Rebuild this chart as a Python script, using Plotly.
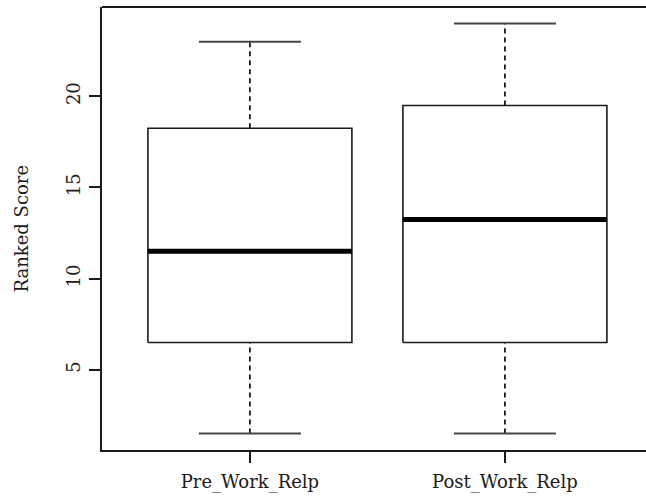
import plotly.graph_objects as go

# Five-number summaries of the ranked scores
categories = ["Pre_Work_Relp", "Post_Work_Relp"]
lower_whisker = [1.5, 1.5]
q1 = [6.5, 6.5]
median = [11.5, 13.25]
q3 = [18.25, 19.5]
upper_whisker = [23, 24]
y_ticks = [5, 10, 15, 20]

positions = [1, 2]
box_half = 0.4      # half box width in x units
cap_half = 0.2      # half whisker-cap width
ink = "#1a1a1a"
font_family = "DejaVu Serif, serif"
font_size = 18

fig = go.Figure()

for x, lo, a, m, b, hi in zip(positions, lower_whisker, q1, median, q3, upper_whisker):
    # dashed whiskers
    for y0, y1 in ((lo, a), (b, hi)):
        fig.add_trace(go.Scatter(
            x=[x, x], y=[y0, y1], mode="lines",
            line=dict(color=ink, width=1.8, dash="5px,4px"),
            hoverinfo="skip", showlegend=False))
    # whisker caps
    for y in (lo, hi):
        fig.add_trace(go.Scatter(
            x=[x - cap_half, x + cap_half], y=[y, y], mode="lines",
            line=dict(color="#444444", width=2),
            hoverinfo="skip", showlegend=False))
    # box outline
    fig.add_trace(go.Scatter(
        x=[x - box_half, x + box_half, x + box_half, x - box_half, x - box_half],
        y=[a, a, b, b, a], mode="lines",
        line=dict(color=ink, width=1.6),
        hoverinfo="skip", showlegend=False))
    # median bar
    fig.add_trace(go.Scatter(
        x=[x - box_half, x + box_half], y=[m, m], mode="lines",
        line=dict(color="#000000", width=5),
        hoverinfo="skip", showlegend=False))

fig.update_layout(
    width=646, height=497,
    margin=dict(l=102, r=0, t=7, b=47),
    paper_bgcolor="white", plot_bgcolor="white",
    font=dict(family=font_family, size=font_size, color="#1a1a1a"),
    xaxis=dict(
        range=[0.42, 0.42 + 544 / 255],
        tickmode="array", tickvals=positions, ticktext=categories,
        ticks="outside", ticklen=11, tickwidth=1.6, tickcolor=ink,
        ticklabelstandoff=3,
        showline=True, linecolor=ink, linewidth=1.8,
        showgrid=False, zeroline=False,
        tickfont=dict(family=font_family, size=font_size),
    ),
    yaxis=dict(
        range=[0.6, 24.9],
        tickmode="array", tickvals=y_ticks,
        ticks="outside", ticklen=11, tickwidth=1.6, tickcolor=ink,
        tickangle=-90, ticklabelstandoff=2,
        showline=True, linecolor=ink, linewidth=1.8,
        showgrid=False, zeroline=False,
        tickfont=dict(family=font_family, size=font_size),
    ),
    shapes=[dict(type="line", xref="paper", yref="paper",
                 x0=0, x1=1, y0=1, y1=1,
                 line=dict(color=ink, width=1.8))],
    annotations=[dict(
        text="Ranked Score", textangle=-90,
        xref="paper", yref="paper", x=0, y=0.5,
        xanchor="center", yanchor="middle", xshift=-81,
        showarrow=False, font=dict(family=font_family, size=font_size))],
)

fig.write_html("out.html")
